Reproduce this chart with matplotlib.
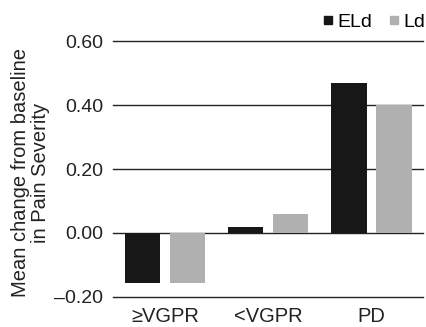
import numpy as np
import matplotlib
matplotlib.use('Agg')
import matplotlib.pyplot as plt
from matplotlib.lines import Line2D

plt.rcParams['font.family'] = ['Liberation Sans', 'DejaVu Sans']

categorias = ['≥VGPR', '<VGPR', 'PD']
series = ['ELd', 'Ld']
eld = [-0.155, 0.019, 0.47]
ld = [-0.155, 0.06, 0.40]
yticks = [-0.20, 0.00, 0.20, 0.40, 0.60]
colores = ['#171717', '#b0b0b0']

fig = plt.figure(figsize=(4.27, 3.27), dpi=100)
ax = fig.add_axes([0.265, 0.092, 0.726, 0.782])

x = np.arange(len(categorias))
ancho = 0.34
desp = 0.218

ax.bar(x - desp, eld, ancho, color=colores[0], label=series[0], zorder=3)
ax.bar(x + desp, ld, ancho, color=colores[1], label=series[1], zorder=3)

for t in yticks:
    ax.axhline(t, color='#222222', lw=1.0, zorder=2, clip_on=False)

ax.set_xlim(-0.5, 2.5)
ax.set_ylim(-0.2, 0.6)
ax.set_yticks(yticks)
ax.set_yticklabels(['–0.20' if t < 0 else f'{t:.2f}' for t in yticks], fontsize=14)
ax.set_xticks(x)
ax.set_xticklabels(categorias, fontsize=14.5)
ax.tick_params(length=0, colors='#222222', pad=7)
ax.tick_params(axis='x', pad=7)
for s in ax.spines.values():
    s.set_visible(False)

ax.set_ylabel('Mean change from baseline\nin Pain Severity', fontsize=14.5, color='#222222',
              linespacing=1.08)
ax.yaxis.set_label_coords(-0.203, 0.486)

# leyenda con cuadrados pequenos
handles = [Line2D([], [], marker='s', ls='', color=c, markersize=6) for c in colores]
ax.legend(handles, series, loc='lower right', bbox_to_anchor=(1.008, 1.04), ncol=2,
          frameon=False, fontsize=14, handletextpad=0.0, columnspacing=0.6,
          handlelength=1.0, borderaxespad=0, borderpad=0)

fig.savefig('out.png', dpi=100)
